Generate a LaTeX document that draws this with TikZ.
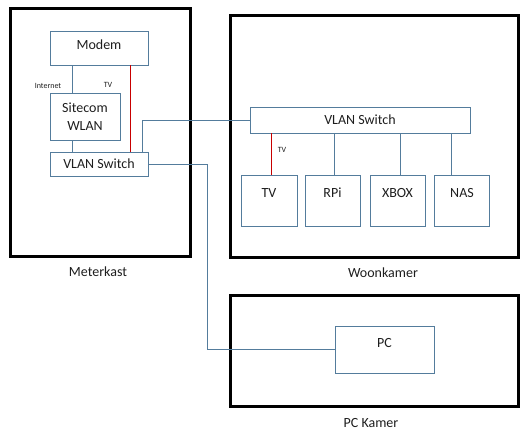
\documentclass[tikz,border=0pt]{standalone}
\usepackage{fontspec}
\setmainfont{Carlito}
\usetikzlibrary{calc}
\definecolor{wire}{RGB}{84,124,156}
\definecolor{tvred}{RGB}{200,0,0}
\definecolor{ink}{RGB}{30,30,30}
\begin{document}
\begin{tikzpicture}[x=1pt,y=-1pt,
    room/.style={draw=black,line width=3pt,minimum width=#1},
    dev/.style={draw=wire,line width=0.8pt,text=ink,font=\fontsize{14}{16}\selectfont,inner sep=0pt},
    devtop/.style={dev,text height=9pt,text depth=16pt},
    small/.style={text=ink,font=\fontsize{8}{9}\selectfont,inner sep=0pt},
    roomlabel/.style={text=ink,font=\fontsize{14}{16}\selectfont,inner sep=0pt},
    cable/.style={draw=wire,line width=0.8pt},
    tvcable/.style={draw=tvred,line width=0.9pt}]
  \useasboundingbox (0,0) rectangle (530,439);
  % rooms
  \node[room=180pt,minimum height=248pt] (meterkast) at (100,132) {};
  \node[room=288pt,minimum height=242pt] (woonkamer) at (374,136) {};
  \node[room=288pt,minimum height=111pt] (pckamer) at (374,350.5) {};
  \node[roomlabel] (meterkastlbl) at (98,272) {Meterkast};
  \node[roomlabel] (woonkamerlbl) at (383,273) {Woonkamer};
  \node[roomlabel] (pckamerlbl) at (371,423) {PC Kamer};
  % meterkast
  \node[dev,minimum width=98pt,minimum height=34pt,text height=9pt,text depth=7pt] (modem) at (99,48) {Modem};
  \node[dev,minimum width=70pt,minimum height=47pt,align=center] (sitecom) at (85,116.5) {Sitecom\\[2pt]WLAN};
  \node[dev,minimum width=98pt,minimum height=24pt] (lswitch) at (99,164) {VLAN Switch};
  \coordinate (inet) at (72,0);
  \coordinate (tvx) at (130,0);
  \coordinate (upx) at (142,0);
  \coordinate (pcx) at (207,0);
  \node[small] (inetlbl) at (48,86) {Internet};
  \node[small] (tvlbl) at (108,85) {TV};
  % woonkamer
  \node[dev,minimum width=220pt,minimum height=26pt] (wswitch) at (360,120) {VLAN Switch};
  \node[devtop,minimum width=56pt,minimum height=51pt] (tv) at (269,200.5) {TV};
  \node[devtop,minimum width=55pt,minimum height=51pt] (rpi) at (332.5,200.5) {RPi};
  \node[devtop,minimum width=55pt,minimum height=51pt] (xbox) at (397.5,200.5) {XBOX};
  \node[devtop,minimum width=55pt,minimum height=51pt] (nas) at (462,200.5) {NAS};
  \node[small] (tvlbl2) at (282,150) {TV};
  % pc kamer
  \node[dev,minimum width=99pt,minimum height=47pt,text height=9pt,text depth=14pt] (pc) at (384.5,349.5) {PC};
  % cables
  \begin{scope}[cable]
    \draw (modem.south -| inet) to (sitecom.north -| inet);
    \draw (sitecom.south -| inet) to (lswitch.north -| inet);
    \draw (lswitch.north -| upx) |- (wswitch.west);
    \draw (lswitch.east) -- (lswitch.east -| pcx) |- (pc.west);
    \draw ([xshift=2pt]rpi.north) to ([xshift=2pt]wswitch.south -| rpi.north);
    \draw ([xshift=3pt]xbox.north) to ([xshift=3pt]wswitch.south -| xbox.north);
    \draw ([xshift=-11pt]nas.north) to ([xshift=-11pt]wswitch.south -| nas.north);
  \end{scope}
  \begin{scope}[tvcable]
    \draw (modem.south -| tvx) to (lswitch.north -| tvx);
    \draw ([xshift=2pt]tv.north) to ([xshift=2pt]wswitch.south -| tv.north);
  \end{scope}
\end{tikzpicture}
\end{document}
